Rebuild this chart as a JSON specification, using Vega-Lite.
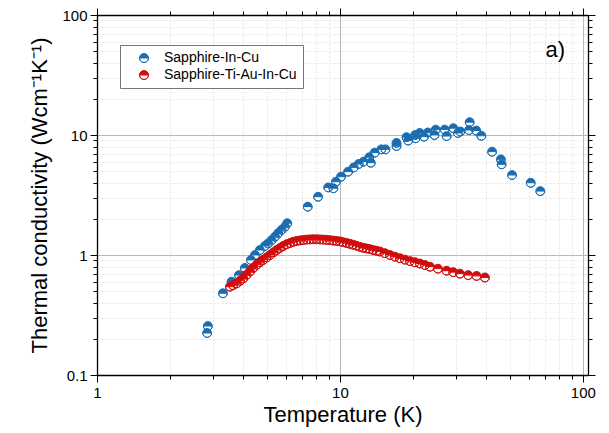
{
  "$schema": "https://vega.github.io/schema/vega-lite/v6.json",
  "width": 491,
  "height": 360,
  "autosize": "none",
  "padding": {"left": 97, "top": 15, "right": 21, "bottom": 58},
  "background": "white",
  "config": {
    "font": "Liberation Sans",
    "view": {"stroke": null},
    "legend": {
      "orient": "none",
      "legendX": 23,
      "legendY": 30,
      "title": null,
      "fillColor": "white",
      "strokeColor": "#777777",
      "padding": 6,
      "labelFont": "Liberation Sans",
      "labelFontSize": 14,
      "labelColor": "black",
      "symbolSize": 81,
      "symbolStrokeWidth": 1,
      "symbolOffset": 11,
      "labelOffset": 13,
      "rowPadding": 3,
      "symbolType": "M-1,0A1,1 0 0 1 1,0Z M-1,0A1,1 0 0 0 1,0A1,1 0 0 1 -1,0"
    }
  },
  "datasets": {
    "pts": [
      {"series": "Sapphire-In-Cu", "T": 2.84, "k": 0.224},
      {"series": "Sapphire-In-Cu", "T": 2.86, "k": 0.256},
      {"series": "Sapphire-In-Cu", "T": 3.30, "k": 0.48},
      {"series": "Sapphire-In-Cu", "T": 3.58, "k": 0.60},
      {"series": "Sapphire-In-Cu", "T": 3.84, "k": 0.68},
      {"series": "Sapphire-In-Cu", "T": 4.06, "k": 0.78},
      {"series": "Sapphire-In-Cu", "T": 4.30, "k": 0.91},
      {"series": "Sapphire-In-Cu", "T": 4.47, "k": 1.0},
      {"series": "Sapphire-In-Cu", "T": 4.68, "k": 1.10},
      {"series": "Sapphire-In-Cu", "T": 4.91, "k": 1.19},
      {"series": "Sapphire-In-Cu", "T": 5.06, "k": 1.25},
      {"series": "Sapphire-In-Cu", "T": 5.23, "k": 1.33},
      {"series": "Sapphire-In-Cu", "T": 5.40, "k": 1.42},
      {"series": "Sapphire-In-Cu", "T": 5.57, "k": 1.52},
      {"series": "Sapphire-In-Cu", "T": 5.75, "k": 1.62},
      {"series": "Sapphire-In-Cu", "T": 5.94, "k": 1.72},
      {"series": "Sapphire-In-Cu", "T": 6.07, "k": 1.84},
      {"series": "Sapphire-In-Cu", "T": 7.37, "k": 2.53},
      {"series": "Sapphire-In-Cu", "T": 8.13, "k": 3.06},
      {"series": "Sapphire-In-Cu", "T": 8.95, "k": 3.66},
      {"series": "Sapphire-In-Cu", "T": 9.4, "k": 3.6},
      {"series": "Sapphire-In-Cu", "T": 9.63, "k": 4.08},
      {"series": "Sapphire-In-Cu", "T": 10.1, "k": 4.49},
      {"series": "Sapphire-In-Cu", "T": 10.8, "k": 4.95},
      {"series": "Sapphire-In-Cu", "T": 11.4, "k": 5.37},
      {"series": "Sapphire-In-Cu", "T": 11.95, "k": 5.74},
      {"series": "Sapphire-In-Cu", "T": 12.5, "k": 6.0},
      {"series": "Sapphire-In-Cu", "T": 13.2, "k": 6.52},
      {"series": "Sapphire-In-Cu", "T": 13.4, "k": 5.88},
      {"series": "Sapphire-In-Cu", "T": 13.9, "k": 7.13},
      {"series": "Sapphire-In-Cu", "T": 14.8, "k": 7.6},
      {"series": "Sapphire-In-Cu", "T": 15.4, "k": 7.6},
      {"series": "Sapphire-In-Cu", "T": 17.1, "k": 8.6},
      {"series": "Sapphire-In-Cu", "T": 17.1, "k": 8.1},
      {"series": "Sapphire-In-Cu", "T": 18.8, "k": 9.6},
      {"series": "Sapphire-In-Cu", "T": 19.1, "k": 8.99},
      {"series": "Sapphire-In-Cu", "T": 20.4, "k": 10.0},
      {"series": "Sapphire-In-Cu", "T": 20.5, "k": 9.4},
      {"series": "Sapphire-In-Cu", "T": 21.3, "k": 10.4},
      {"series": "Sapphire-In-Cu", "T": 22.2, "k": 9.7},
      {"series": "Sapphire-In-Cu", "T": 23.0, "k": 10.5},
      {"series": "Sapphire-In-Cu", "T": 24.5, "k": 10.0},
      {"series": "Sapphire-In-Cu", "T": 24.8, "k": 11.1},
      {"series": "Sapphire-In-Cu", "T": 27.0, "k": 11.1},
      {"series": "Sapphire-In-Cu", "T": 27.5, "k": 9.8},
      {"series": "Sapphire-In-Cu", "T": 29.3, "k": 11.4},
      {"series": "Sapphire-In-Cu", "T": 30.6, "k": 10.4},
      {"series": "Sapphire-In-Cu", "T": 31.3, "k": 10.7},
      {"series": "Sapphire-In-Cu", "T": 34.0, "k": 11.0},
      {"series": "Sapphire-In-Cu", "T": 34.2, "k": 12.8},
      {"series": "Sapphire-In-Cu", "T": 36.4, "k": 10.9},
      {"series": "Sapphire-In-Cu", "T": 38.2, "k": 9.85},
      {"series": "Sapphire-In-Cu", "T": 42.3, "k": 7.27},
      {"series": "Sapphire-In-Cu", "T": 46.0, "k": 6.27},
      {"series": "Sapphire-In-Cu", "T": 46.3, "k": 5.7},
      {"series": "Sapphire-In-Cu", "T": 51.1, "k": 4.64},
      {"series": "Sapphire-In-Cu", "T": 61.0, "k": 4.0},
      {"series": "Sapphire-In-Cu", "T": 66.8, "k": 3.41},
      {"series": "Sapphire-Ti-Au-In-Cu", "T": 3.526, "k": 0.545},
      {"series": "Sapphire-Ti-Au-In-Cu", "T": 3.628, "k": 0.56},
      {"series": "Sapphire-Ti-Au-In-Cu", "T": 3.757, "k": 0.58},
      {"series": "Sapphire-Ti-Au-In-Cu", "T": 3.877, "k": 0.61},
      {"series": "Sapphire-Ti-Au-In-Cu", "T": 4.001, "k": 0.64},
      {"series": "Sapphire-Ti-Au-In-Cu", "T": 4.131, "k": 0.685},
      {"series": "Sapphire-Ti-Au-In-Cu", "T": 4.263, "k": 0.73},
      {"series": "Sapphire-Ti-Au-In-Cu", "T": 4.398, "k": 0.78},
      {"series": "Sapphire-Ti-Au-In-Cu", "T": 4.541, "k": 0.83},
      {"series": "Sapphire-Ti-Au-In-Cu", "T": 4.685, "k": 0.87},
      {"series": "Sapphire-Ti-Au-In-Cu", "T": 4.834, "k": 0.91},
      {"series": "Sapphire-Ti-Au-In-Cu", "T": 4.992, "k": 0.955},
      {"series": "Sapphire-Ti-Au-In-Cu", "T": 5.152, "k": 1.0},
      {"series": "Sapphire-Ti-Au-In-Cu", "T": 5.316, "k": 1.05},
      {"series": "Sapphire-Ti-Au-In-Cu", "T": 5.49, "k": 1.10},
      {"series": "Sapphire-Ti-Au-In-Cu", "T": 5.664, "k": 1.145},
      {"series": "Sapphire-Ti-Au-In-Cu", "T": 5.845, "k": 1.19},
      {"series": "Sapphire-Ti-Au-In-Cu", "T": 6.036, "k": 1.23},
      {"series": "Sapphire-Ti-Au-In-Cu", "T": 6.227, "k": 1.26},
      {"series": "Sapphire-Ti-Au-In-Cu", "T": 6.425, "k": 1.29},
      {"series": "Sapphire-Ti-Au-In-Cu", "T": 6.635, "k": 1.31},
      {"series": "Sapphire-Ti-Au-In-Cu", "T": 6.845, "k": 1.325},
      {"series": "Sapphire-Ti-Au-In-Cu", "T": 7.063, "k": 1.335},
      {"series": "Sapphire-Ti-Au-In-Cu", "T": 7.295, "k": 1.345},
      {"series": "Sapphire-Ti-Au-In-Cu", "T": 7.525, "k": 1.35},
      {"series": "Sapphire-Ti-Au-In-Cu", "T": 7.765, "k": 1.355},
      {"series": "Sapphire-Ti-Au-In-Cu", "T": 8.019, "k": 1.355},
      {"series": "Sapphire-Ti-Au-In-Cu", "T": 8.274, "k": 1.35},
      {"series": "Sapphire-Ti-Au-In-Cu", "T": 8.537, "k": 1.345},
      {"series": "Sapphire-Ti-Au-In-Cu", "T": 8.816, "k": 1.34},
      {"series": "Sapphire-Ti-Au-In-Cu", "T": 9.095, "k": 1.33},
      {"series": "Sapphire-Ti-Au-In-Cu", "T": 9.385, "k": 1.32},
      {"series": "Sapphire-Ti-Au-In-Cu", "T": 9.692, "k": 1.31},
      {"series": "Sapphire-Ti-Au-In-Cu", "T": 10.0, "k": 1.30},
      {"series": "Sapphire-Ti-Au-In-Cu", "T": 10.32, "k": 1.28},
      {"series": "Sapphire-Ti-Au-In-Cu", "T": 10.66, "k": 1.26},
      {"series": "Sapphire-Ti-Au-In-Cu", "T": 11.0, "k": 1.24},
      {"series": "Sapphire-Ti-Au-In-Cu", "T": 11.34, "k": 1.22},
      {"series": "Sapphire-Ti-Au-In-Cu", "T": 11.71, "k": 1.195},
      {"series": "Sapphire-Ti-Au-In-Cu", "T": 12.09, "k": 1.17},
      {"series": "Sapphire-Ti-Au-In-Cu", "T": 12.47, "k": 1.15},
      {"series": "Sapphire-Ti-Au-In-Cu", "T": 12.88, "k": 1.135},
      {"series": "Sapphire-Ti-Au-In-Cu", "T": 13.29, "k": 1.12},
      {"series": "Sapphire-Ti-Au-In-Cu", "T": 13.71, "k": 1.10},
      {"series": "Sapphire-Ti-Au-In-Cu", "T": 14.16, "k": 1.085},
      {"series": "Sapphire-Ti-Au-In-Cu", "T": 14.61, "k": 1.07},
      {"series": "Sapphire-Ti-Au-In-Cu", "T": 15.32, "k": 1.035},
      {"series": "Sapphire-Ti-Au-In-Cu", "T": 16.06, "k": 1.0},
      {"series": "Sapphire-Ti-Au-In-Cu", "T": 16.84, "k": 0.97},
      {"series": "Sapphire-Ti-Au-In-Cu", "T": 17.66, "k": 0.94},
      {"series": "Sapphire-Ti-Au-In-Cu", "T": 18.51, "k": 0.915},
      {"series": "Sapphire-Ti-Au-In-Cu", "T": 19.42, "k": 0.89},
      {"series": "Sapphire-Ti-Au-In-Cu", "T": 20.36, "k": 0.87},
      {"series": "Sapphire-Ti-Au-In-Cu", "T": 21.34, "k": 0.85},
      {"series": "Sapphire-Ti-Au-In-Cu", "T": 22.38, "k": 0.825},
      {"series": "Sapphire-Ti-Au-In-Cu", "T": 23.47, "k": 0.80},
      {"series": "Sapphire-Ti-Au-In-Cu", "T": 25.31, "k": 0.77},
      {"series": "Sapphire-Ti-Au-In-Cu", "T": 27.49, "k": 0.74},
      {"series": "Sapphire-Ti-Au-In-Cu", "T": 29.27, "k": 0.72},
      {"series": "Sapphire-Ti-Au-In-Cu", "T": 31.18, "k": 0.70},
      {"series": "Sapphire-Ti-Au-In-Cu", "T": 33.73, "k": 0.68},
      {"series": "Sapphire-Ti-Au-In-Cu", "T": 36.52, "k": 0.67},
      {"series": "Sapphire-Ti-Au-In-Cu", "T": 39.52, "k": 0.65}
    ],
    "ann": [{"T": 77, "k": 51, "label": "a)"}]
  },
  "layer": [
    {
      "data": {"name": "pts"},
      "mark": {"type": "point", "shape": "circle", "filled": true, "fill": "white", "size": 60, "opacity": 1},
      "encoding": {
        "x": {
          "field": "T", "type": "quantitative",
          "scale": {"type": "log", "domain": [1, 105], "nice": false},
          "axis": {
            "orient": "bottom",
            "title": "Temperature (K)",
            "values": [1, 2, 3, 4, 5, 6, 7, 8, 9, 10, 20, 30, 40, 50, 60, 70, 80, 90, 100],
            "labelExpr": "indexof([1, 10, 100], datum.value) >= 0 ? format(datum.value, '~g') : ''",
            "labelOverlap": false,
            "labelFlush": false,
            "grid": true,
            "gridColor": {"condition": {"test": "indexof([1, 10, 100], datum.value) >= 0", "value": "#b8b8b8"}, "value": "#e4e4e4"},
            "gridDash": {"condition": {"test": "indexof([1, 10, 100], datum.value) >= 0", "value": []}, "value": [2, 2]},
            "gridWidth": 1,
            "tickSize": {"condition": {"test": "indexof([1, 10, 100], datum.value) >= 0", "value": 7}, "value": 4},
            "tickColor": "black",
            "tickWidth": 1,
            "domainColor": "black",
            "domainWidth": 1.3,
            "labelColor": "black",
            "labelFont": "Liberation Sans",
            "labelFontSize": 15,
            "labelPadding": 3,
            "titleFont": "Liberation Sans",
            "titleFontSize": 22,
            "titleFontWeight": "normal",
            "titleColor": "black",
            "titlePadding": 4
          }
        },
        "y": {
          "field": "k", "type": "quantitative",
          "scale": {"type": "log", "domain": [0.1, 100], "nice": false},
          "axis": {
            "orient": "left",
            "title": "Thermal conductivity (Wcm⁻¹K⁻¹)",
            "values": [0.1, 0.2, 0.3, 0.4, 0.5, 0.6, 0.7, 0.8, 0.9, 1, 2, 3, 4, 5, 6, 7, 8, 9, 10, 20, 30, 40, 50, 60, 70, 80, 90, 100],
            "labelExpr": "indexof([0.1, 1, 10, 100], datum.value) >= 0 ? format(datum.value, '~g') : ''",
            "labelOverlap": false,
            "labelFlush": false,
            "grid": true,
            "gridColor": {"condition": {"test": "indexof([0.1, 1, 10, 100], datum.value) >= 0", "value": "#b8b8b8"}, "value": "#e4e4e4"},
            "gridDash": {"condition": {"test": "indexof([0.1, 1, 10, 100], datum.value) >= 0", "value": []}, "value": [2, 2]},
            "gridWidth": 1,
            "tickSize": {"condition": {"test": "indexof([0.1, 1, 10, 100], datum.value) >= 0", "value": 7}, "value": 4},
            "tickColor": "black",
            "tickWidth": 1,
            "domainColor": "black",
            "domainWidth": 1.3,
            "labelColor": "black",
            "labelFont": "Liberation Sans",
            "labelFontSize": 15,
            "labelPadding": 3,
            "titleFont": "Liberation Sans",
            "titleFontSize": 22,
            "titleFontWeight": "normal",
            "titleColor": "black",
            "titlePadding": 10
          }
        }
      }
    },
    {
      "data": {"name": "pts"},
      "mark": {"type": "point", "shape": "M-1,0A1,1 0 0 1 1,0Z M-1,0A1,1 0 0 0 1,0A1,1 0 0 1 -1,0", "filled": true, "size": 78, "strokeWidth": 1, "opacity": 1},
      "encoding": {
        "x": {
          "field": "T", "type": "quantitative",
          "scale": {"type": "log", "domain": [1, 105], "nice": false},
          "axis": {
            "orient": "top", "title": null, "labels": false, "grid": false,
            "values": [1, 2, 3, 4, 5, 6, 7, 8, 9, 10, 20, 30, 40, 50, 60, 70, 80, 90, 100],
            "tickSize": {"condition": {"test": "indexof([1, 10, 100], datum.value) >= 0", "value": 7}, "value": 4},
            "tickColor": "black", "domainColor": "black", "domainWidth": 1.3
          }
        },
        "y": {
          "field": "k", "type": "quantitative",
          "scale": {"type": "log", "domain": [0.1, 100], "nice": false},
          "axis": {
            "orient": "right", "title": null, "labels": false, "grid": false,
            "values": [0.1, 0.2, 0.3, 0.4, 0.5, 0.6, 0.7, 0.8, 0.9, 1, 2, 3, 4, 5, 6, 7, 8, 9, 10, 20, 30, 40, 50, 60, 70, 80, 90, 100],
            "tickSize": {"condition": {"test": "indexof([0.1, 1, 10, 100], datum.value) >= 0", "value": 7}, "value": 4},
            "tickColor": "black", "domainColor": "black", "domainWidth": 1.3
          }
        },
        "fill": {
          "field": "series", "type": "nominal",
          "scale": {"domain": ["Sapphire-In-Cu", "Sapphire-Ti-Au-In-Cu"], "range": ["#1b6db3", "#d00d0d"]}
        },
        "stroke": {
          "field": "series", "type": "nominal",
          "scale": {"domain": ["Sapphire-In-Cu", "Sapphire-Ti-Au-In-Cu"], "range": ["#1b6db3", "#d00d0d"]}
        }
      }
    },
    {
      "data": {"name": "ann"},
      "mark": {"type": "text", "font": "Liberation Sans", "fontSize": 22, "color": "black", "align": "center", "baseline": "middle"},
      "encoding": {
        "x": {"field": "T", "type": "quantitative", "axis": null},
        "y": {"field": "k", "type": "quantitative", "axis": null},
        "text": {"field": "label"}
      }
    }
  ],
  "resolve": {"axis": {"x": "independent", "y": "independent"}}
}
